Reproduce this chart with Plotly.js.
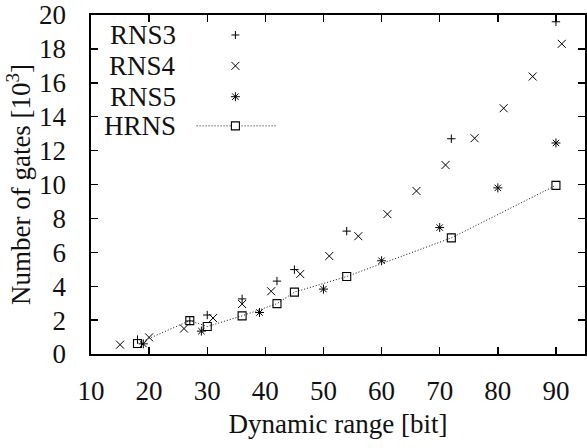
<!DOCTYPE html>
<html>
<head>
<meta charset="utf-8">
<script src="https://cdn.plot.ly/plotly-3.0.1.min.js"></script>
<style>
html,body{margin:0;padding:0;background:#fff;}
#chart{width:587px;height:448px;}
</style>
</head>
<body>
<div id="chart"></div>
<script>
// Data (dynamic range in bits, gates in thousands)
const rns3X = [18, 27, 30, 36, 42, 45, 54, 72, 90];
const rns3Y = [0.85, 1.95, 2.3, 3.25, 4.3, 4.98, 7.25, 12.7, 19.6];

const rns4X = [15, 20, 26, 31, 36, 41, 46, 51, 56, 61, 66, 71, 76, 81, 86, 91];
const rns4Y = [0.55, 0.98, 1.5, 2.12, 2.95, 3.7, 4.72, 5.78, 6.95, 8.25, 9.62, 11.15, 12.73, 14.5, 16.37, 18.3];

const rns5X = [19, 29, 39, 50, 60, 70, 80, 90];
const rns5Y = [0.6, 1.35, 2.45, 3.83, 5.5, 7.46, 9.8, 12.45];

const hrnsX = [18, 27, 30, 36, 42, 45, 54, 72, 90];
const hrnsY = [0.62, 1.97, 1.62, 2.25, 2.97, 3.65, 4.57, 6.85, 9.95];

const seriesNames = ["RNS3", "RNS4", "RNS5", "HRNS"];
const xTicks = [10, 20, 30, 40, 50, 60, 70, 80, 90];
const yTicks = [0, 2, 4, 6, 8, 10, 12, 14, 16, 18, 20];

const FONT = "Liberation Serif";
const FS = 27;
const markers = [
  {symbol: "cross-thin-open", size: 6, color: "#000", line: {width: 1, color: "#000"}},
  {symbol: "x-thin-open", size: 8, color: "#000", line: {width: 1, color: "#000"}},
  {symbol: "asterisk-open", size: 7.5, color: "#000", line: {width: 1, color: "#000"}},
  {symbol: "square-open", size: 8, color: "#000", line: {width: 1.1, color: "#000"}}
];
const hrnsLine = {color: "#111", width: 1, dash: "1px,2px"};

const xs = [rns3X, rns4X, rns5X, hrnsX];
const ys = [rns3Y, rns4Y, rns5Y, hrnsY];

const traces = [];
for (let i = 0; i < 4; i++) {
  traces.push({
    x: xs[i], y: ys[i], name: seriesNames[i],
    type: "scatter",
    mode: i === 3 ? "lines+markers" : "markers",
    marker: markers[i],
    line: i === 3 ? hrnsLine : undefined,
    showlegend: false,
    cliponaxis: false
  });
}

// Legend in the reference style: names right-aligned, key symbol to the right
const keyY = [0.941, 0.85, 0.759, 0.673];
const keyX = 0.2923;
const annotations = seriesNames.map((n, i) => ({
  text: n, xref: "paper", yref: "paper", x: 0.1754, y: keyY[i],
  xanchor: "right", yanchor: "middle", showarrow: false,
  font: {family: FONT, size: FS, color: "#111"}
}));
const keyPaths = [
  "M-4,0H4M0,-4V4",
  "M-4,-4L4,4M-4,4L4,-4",
  "M-4.5,0H4.5M0,-4.5V4.5M-3.2,-3.2L3.2,3.2M-3.2,3.2L3.2,-3.2",
  "M-4,-4H4V4H-4Z"
];
const shapes = [{
  type: "line", xref: "paper", yref: "paper",
  x0: 0.2137, x1: 0.375, y0: keyY[3], y1: keyY[3],
  line: {color: "#111", width: 1, dash: "1px,2px"}
}];
keyPaths.forEach((p, i) => shapes.push({
  type: "path", xref: "paper", yref: "paper",
  xsizemode: "pixel", ysizemode: "pixel", xanchor: keyX, yanchor: keyY[i],
  path: p, fillcolor: i === 3 ? "#fff" : "rgba(0,0,0,0)",
  line: {color: "#000", width: i === 3 ? 1.1 : 1}
}));

const axisCommon = {
  showgrid: false, zeroline: false,
  showline: true, linecolor: "#000", linewidth: 1.6,
  mirror: "ticks", ticks: "inside", ticklen: 7, tickwidth: 1.4, tickcolor: "#000",
  ticklabeloverflow: "allow",
  tickfont: {family: FONT, size: FS, color: "#111"}
};

const layout = {
  width: 587, height: 448,
  margin: {l: 91, r: 0, t: 14, b: 94},
  paper_bgcolor: "#fff", plot_bgcolor: "#fff",
  font: {family: FONT, color: "#111"},
  xaxis: Object.assign({}, axisCommon, {
    range: [10, 95], tickmode: "array", tickvals: xTicks, ticktext: xTicks.map(String),
    ticklabelstandoff: 12,
    title: {text: "Dynamic range [bit]", font: {family: FONT, size: FS, color: "#111"}, standoff: 9}
  }),
  yaxis: Object.assign({}, axisCommon, {
    range: [0, 20], tickmode: "array", tickvals: yTicks, ticktext: yTicks.map(String),
    ticklabelstandoff: 18,
    automargin: true,
    title: {text: "Number of gates [10<sup>3</sup>]", font: {family: FONT, size: FS, color: "#111"}, standoff: 0}
  }),
  showlegend: false,
  annotations: annotations,
  shapes: shapes
};

Plotly.newPlot("chart", traces, layout, {displayModeBar: false, staticPlot: true});
</script>
</body>
</html>
